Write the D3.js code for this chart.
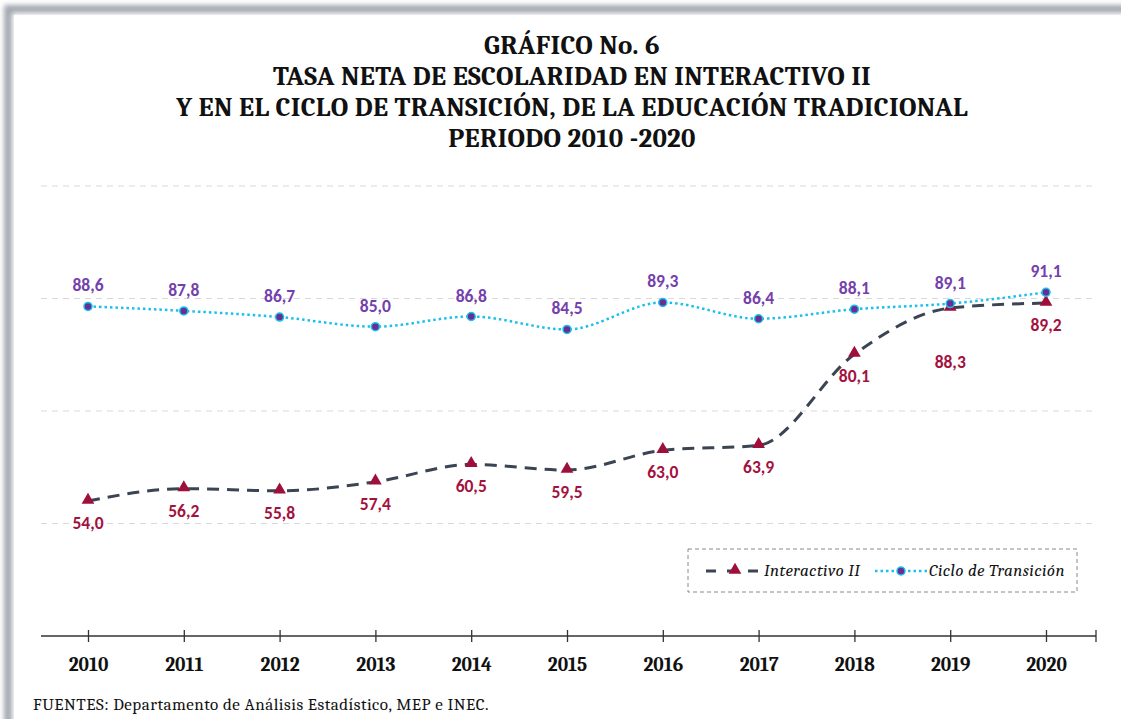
<!DOCTYPE html>
<html>
<head>
<meta charset="utf-8">
<script src="https://cdn.jsdelivr.net/npm/d3@7"></script>
<style>
  body { margin: 0; background: #fff; }
  svg { display: block; }
</style>
</head>
<body>
<script>
const years = ["2010", "2011", "2012", "2013", "2014", "2015", "2016", "2017", "2018", "2019", "2020"];
const interactivo = [54.0, 56.2, 55.8, 57.4, 60.5, 59.5, 63.0, 63.9, 80.1, 88.3, 89.2];
const ciclo = [88.6, 87.8, 86.7, 85.0, 86.8, 84.5, 89.3, 86.4, 88.1, 89.1, 91.1];
const gridValues = [50, 70, 90, 110];
const titleLines = [
    "GRÁFICO No. 6",
    "TASA NETA DE ESCOLARIDAD EN INTERACTIVO II",
    "Y EN EL CICLO DE TRANSICIÓN, DE LA EDUCACIÓN TRADICIONAL",
    "PERIODO 2010 -2020"
];
const seriesNames = ["Interactivo II", "Ciclo de Transición"];
const source = "FUENTES: Departamento de Análisis Estadístico, MEP e INEC.";

const width = 1121, height = 719;
const margin = {top: 186, right: 25, bottom: 83, left: 41};
const serif = "Cambria, 'Liberation Serif', 'DejaVu Serif', serif";
const sans = "Calibri, Lato, 'Open Sans', sans-serif";

const svg = d3.select("body").append("svg")
    .attr("width", width)
    .attr("height", height);

// frame shadow
const defs = svg.append("defs");
defs.append("filter").attr("id", "blur")
    .attr("x", "-5%").attr("y", "-5%").attr("width", "110%").attr("height", "110%")
    .append("feGaussianBlur").attr("stdDeviation", 2.5);

svg.append("rect")
    .attr("x", 8).attr("y", 9)
    .attr("width", width + 40).attr("height", height + 40)
    .attr("fill", "none")
    .attr("stroke", "#a3a8b1")
    .attr("stroke-width", 8)
    .attr("filter", "url(#blur)");
svg.append("rect")
    .attr("x", 14).attr("y", 15)
    .attr("width", width).attr("height", height)
    .attr("fill", "#fff");

// title
svg.append("g")
    .selectAll("text")
    .data(titleLines)
    .join("text")
    .attr("x", 572)
    .attr("y", (d, i) => 54 + i * 31)
    .attr("text-anchor", "middle")
    .style("font-family", serif)
    .style("font-weight", "bold")
    .style("font-size", "27px")
    .style("letter-spacing", "0.3px")
    .attr("fill", "#111")
    .text(d => d);

const x = d3.scalePoint()
    .domain(years)
    .range([margin.left + 47, width - margin.right - 48 - 2]);

const y = d3.scaleLinear()
    .domain([30, 110])
    .range([height - margin.bottom, margin.top]);

// gridlines
svg.append("g")
    .selectAll("line")
    .data(gridValues)
    .join("line")
    .attr("x1", margin.left)
    .attr("x2", width - margin.right)
    .attr("y1", d => y(d))
    .attr("y2", d => y(d))
    .attr("stroke", "#d9d9d9")
    .attr("stroke-width", 1)
    .attr("stroke-dasharray", "6,5");

// x axis
const xAxis = svg.append("g")
    .attr("transform", `translate(0,${y(30)})`)
    .call(d3.axisBottom(x).tickSize(6).tickSizeOuter(0).tickPadding(12));
xAxis.select(".domain").remove();
xAxis.append("line")
    .attr("x1", margin.left).attr("x2", width - margin.right)
    .attr("stroke", "#333").attr("stroke-width", 1.5);
xAxis.append("line")
    .attr("x1", width - margin.right).attr("x2", width - margin.right)
    .attr("y1", -6).attr("y2", 6)
    .attr("stroke", "#333").attr("stroke-width", 1.3);
xAxis.selectAll(".tick line")
    .attr("y1", -6).attr("y2", 6)
    .attr("stroke", "#333").attr("stroke-width", 1.3);
xAxis.selectAll(".tick text")
    .style("font-family", serif)
    .style("font-weight", "bold")
    .style("font-size", "19.5px")
    .attr("fill", "#111")
    .attr("dy", "0.85em");

const line = d3.line()
    .x((d, i) => x(years[i]))
    .y(d => y(d))
    .curve(d3.curveMonotoneX);

// Interactivo II
svg.append("path")
    .attr("d", line(interactivo))
    .attr("fill", "none")
    .attr("stroke", "#3a4453")
    .attr("stroke-width", 3)
    .attr("stroke-dasharray", "12,8");

// Ciclo de Transición
svg.append("path")
    .attr("d", line(ciclo))
    .attr("fill", "none")
    .attr("stroke", "#19c0ee")
    .attr("stroke-width", 2.5)
    .attr("stroke-dasharray", "2.5,3");

const tri = d3.symbol().type(d3.symbolTriangle).size(70);

svg.append("g")
    .selectAll("path")
    .data(interactivo)
    .join("path")
    .attr("d", tri)
    .attr("transform", (d, i) => `translate(${x(years[i])},${y(d) - 1})`)
    .attr("fill", "#9e0f3b");

svg.append("g")
    .selectAll("circle")
    .data(ciclo)
    .join("circle")
    .attr("cx", (d, i) => x(years[i]))
    .attr("cy", d => y(d))
    .attr("r", 4)
    .attr("fill", "#6a2e92")
    .attr("stroke", "#19c0ee")
    .attr("stroke-width", 1.5);

const fmt = v => d3.format(".1f")(v).replace(".", ",");

svg.append("g")
    .selectAll("text")
    .data(ciclo)
    .join("text")
    .attr("x", (d, i) => x(years[i]))
    .attr("y", d => y(d) - 15)
    .attr("text-anchor", "middle")
    .style("font-family", sans)
    .style("font-weight", "bold")
    .style("font-size", "17.5px")
    .attr("fill", "#7440ac")
    .text(d => fmt(d));

svg.append("g")
    .selectAll("text")
    .data(interactivo)
    .join("text")
    .attr("x", (d, i) => x(years[i]))
    .attr("y", (d, i) => y(d) + (Math.abs(ciclo[i] - d) < 1 ? 60 : 28))
    .attr("text-anchor", "middle")
    .style("font-family", sans)
    .style("font-weight", "bold")
    .style("font-size", "17.5px")
    .attr("fill", "#a3123f")
    .text(d => fmt(d));

// legend
const legend = svg.append("g").attr("transform", "translate(688,549)");
legend.append("rect")
    .attr("width", 389).attr("height", 43)
    .attr("fill", "#fff")
    .attr("stroke", "#8a8a8a")
    .attr("stroke-width", 1)
    .attr("stroke-dasharray", "4,3");
legend.append("line")
    .attr("x1", 18).attr("x2", 77).attr("y1", 22).attr("y2", 22)
    .attr("stroke", "#3a4453").attr("stroke-width", 3)
    .attr("stroke-dasharray", "10,11");
legend.append("path")
    .attr("d", tri)
    .attr("transform", "translate(47,21)")
    .attr("fill", "#9e0f3b");
legend.append("line")
    .attr("x1", 187).attr("x2", 240).attr("y1", 22).attr("y2", 22)
    .attr("stroke", "#19c0ee").attr("stroke-width", 2.5)
    .attr("stroke-dasharray", "2.5,3");
legend.append("circle")
    .attr("cx", 213).attr("cy", 22).attr("r", 4)
    .attr("fill", "#6a2e92").attr("stroke", "#19c0ee").attr("stroke-width", 1.5);
legend.selectAll("text.name")
    .data(seriesNames)
    .join("text")
    .attr("class", "name")
    .attr("x", (d, i) => i === 0 ? 76 : 241)
    .attr("y", 27)
    .style("font-family", serif)
    .style("font-style", "italic")
    .style("font-size", "17px")
    .style("letter-spacing", "0.4px")
    .attr("fill", "#111")
    .text(d => d);

// source
svg.append("text")
    .attr("x", 33)
    .attr("y", 710)
    .style("font-family", serif)
    .style("font-size", "17px")
    .style("letter-spacing", "0.5px")
    .attr("fill", "#111")
    .text(source);
</script>
</body>
</html>
